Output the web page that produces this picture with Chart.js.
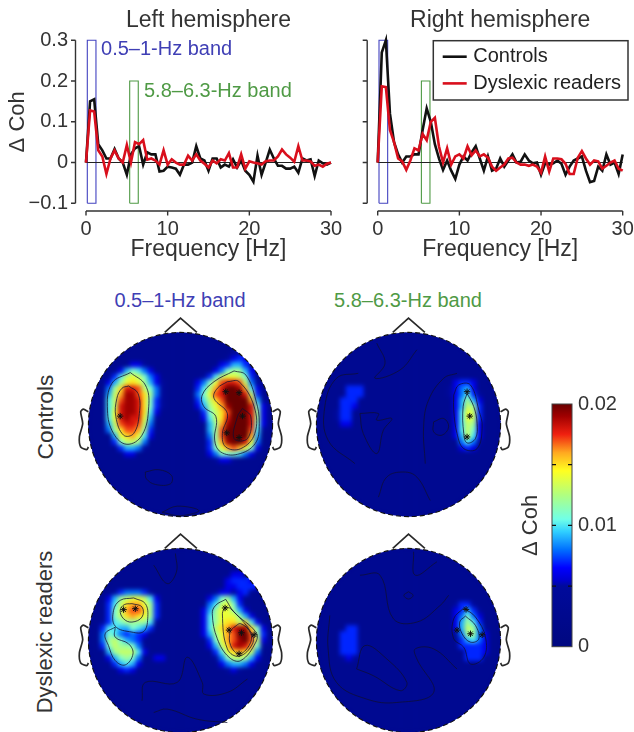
<!DOCTYPE html>
<html><head><meta charset="utf-8">
<style>
html,body{margin:0;padding:0;background:#fff;width:634px;height:732px;overflow:hidden}
body{position:relative;font-family:"Liberation Sans",Arial,sans-serif;color:#333;filter:blur(.35px)}
.box{position:absolute}
.lab{position:absolute;white-space:nowrap;font-size:20px;line-height:24px;transform:translate(-50%,-50%)}
.rot{transform:translate(-50%,-50%) rotate(-90deg)}
</style>
<script src="https://cdn.jsdelivr.net/npm/chart.js@4"></script>
</head><body>
<div class="box" style="left:0;top:0;width:352px;height:270px"><canvas id="left"></canvas></div>
<div class="box" style="left:340px;top:0;width:294px;height:270px"><canvas id="right"></canvas></div>
<div class="lab" style="left:180px;top:300px;color:#3f3fb5">0.5–1-Hz band</div>
<div class="lab" style="left:408px;top:300px;color:#4f9a45">5.8–6.3-Hz band</div>
<div class="lab rot" style="left:45px;top:417px;font-size:22.8px">Controls</div>
<div class="lab rot" style="left:45px;top:632px;font-size:22px">Dyslexic readers</div>
<div class="box" style="left:70px;top:314px;width:221px;height:221px"><canvas id="m1"></canvas></div>
<div class="box" style="left:298px;top:314px;width:221px;height:221px"><canvas id="m2"></canvas></div>
<div class="box" style="left:70px;top:530px;width:221px;height:221px"><canvas id="m3"></canvas></div>
<div class="box" style="left:298px;top:530px;width:221px;height:221px"><canvas id="m4"></canvas></div>
<div class="box" style="left:510px;top:390px;width:124px;height:270px"><canvas id="cb"></canvas></div>
<script>
// ---------- spectra ----------
const freqHz=[0,.5,1,1.5,2,2.5,3,3.5,4,4.5,5,5.5,6,6.5,7,7.5,8,8.5,9,9.5,10,10.5,11,11.5,12,12.5,13,13.5,14,14.5,15,15.5,16,16.5,17,17.5,18,18.5,19,19.5,20,20.5,21,21.5,22,22.5,23,23.5,24,24.5,25,25.5,26,26.5,27,27.5,28,28.5,29,29.5,30];
const leftControls=[0,.15,.155,.045,.03,.01,.01,.033,.01,0,-.03,.02,.035,.04,-.005,.025,.02,.02,-.022,-.02,-.01,-.012,-.015,-.03,-.005,-.005,0,.04,.01,.005,-.02,.01,.01,-.012,-.005,-.01,.008,-.012,.005,-.02,-.03,-.047,.017,-.03,0,.032,.01,-.008,-.008,-.015,-.015,-.01,-.025,.01,.005,.008,-.033,.005,-.002,-.005,0];
const leftDyslexic=[0,.128,.125,.03,.015,-.028,.01,.03,.01,0,.043,0,.05,.045,.055,.007,.01,.005,-.005,.03,-.005,.008,0,-.005,-.005,.017,.005,.02,.005,-.003,-.012,.005,-.002,.008,.005,.023,-.012,-.012,.02,-.015,.003,0,-.002,-.005,.003,.005,.005,.015,.032,.02,.012,.002,.04,.005,.005,.003,-.008,-.005,-.01,-.003,0];
const rightControls=[0,.27,.3,.12,.05,.02,0,.015,.015,.02,.02,.08,.133,.1,.045,.01,-.018,.005,-.02,-.04,-.005,.015,.005,.025,.04,.01,-.02,.015,-.02,-.015,.01,-.01,.005,.02,0,.002,.02,.005,-.002,0,-.03,-.002,-.005,-.002,.005,-.003,-.03,-.01,.005,.01,.015,-.02,-.048,-.045,-.01,-.02,.02,-.005,0,-.028,.02];
const rightDyslexic=[0,.187,.185,.08,.05,.01,.003,-.018,.005,.035,.03,.07,.055,.1,.11,.04,0,.035,-.005,.015,.02,.01,.04,.018,.03,.015,.02,.012,-.01,-.02,-.012,-.005,.01,.012,0,-.005,-.005,-.008,-.005,-.01,-.025,.015,-.022,.01,.01,.008,-.003,-.028,-.028,.012,.028,.01,-.005,.005,.003,-.015,-.008,0,.005,-.015,-.02];
const bandSlowX=[.16,1.22,1.22,.16,.16], bandSlowY=[-.1,-.1,.3,.3,-.1];
const bandFastX=[5.35,6.4,6.4,5.35,5.35], bandFastY=[-.1,-.1,.2,.2,-.1];
const xTicks=[0,10,20,30], yTicks=[-.1,0,.1,.2,.3];

// ---------- topographies: [row, firstColumn, levels in 0.001 units, base 36] ----------
const mapControlsSlow=[
[5,7,"665"],[6,5,"69ba86"],[7,4,"7adedb86"],[8,3,"69cefec965"],[9,3,"8cfiihdb85"],[10,3,"9dgjjhfc85"],[11,3,"adhjjifb75"],[12,3,"adijjifb75"],[13,3,"aeijjifa6"],[14,3,"aeijiie95"],[15,3,"9dhiihd8"],[16,3,"8cfhhgc7"],[17,4,"9efgea6"],[18,4,"7bddc8"],[19,5,"79985"],[20,6,"66"],
[3,24,"55"],[4,23,"5676"],[5,22,"679975"],[6,21,"68bcc96"],[7,19,"57adeedb7"],[8,18,"68behiihd85"],[9,18,"7adgikkjga6"],[10,18,"8behikkkid7"],[11,18,"7adfhkkkkg95"],[12,18,"69cegjkkkib6"],[13,19,"7bdfhkkkic6"],[14,19,"6adfikkkic6"],[15,20,"9cgjkkkib6"],[16,20,"9chkkkkha5"],[17,20,"8chkkkkg9"],[18,20,"7cgjkkie8"],[19,20,"7beghgeb6"],[20,20,"68bbba86"],[21,21,"5665"]];
const mapControlsFast=[
[9,5,"777"],[10,5,"777"],[11,4,"777"],[12,4,"776"],[13,3,"577"],[14,3,"577"],[15,4,"66"],
[8,23,"6776"],[9,22,"56896"],[10,22,"568a75"],[11,23,"69c96"],[12,23,"69dc7"],[13,23,"6aed7"],[14,23,"6aed7"],[15,23,"6adc6"],[16,23,"6adb6"],[17,23,"69da6"],[18,24,"8a85"],[19,24,"676"]];
const mapDyslexicSlow=[
[7,4,"5788875"],[8,3,"69cdeeda6"],[9,3,"7adfggec7"],[10,3,"7bdghhfc7"],[11,3,"7bdfgfec7"],[12,2,"57abcccca5"],[13,2,"7aa99ba97"],[14,2,"8ba87876"],[15,2,"8cdb987"],[16,2,"7bdccb85"],[17,3,"9cddda6"],[18,3,"69bcb8"],[19,4,"79a96"],[20,5,"676"],[18,11,"66"],
[4,24,"66"],[5,23,"67776"],[6,23,"667776"],
[7,21,"566567"],[8,20,"68bc96"],[9,20,"8adeb7"],[10,19,"69ceec96"],[11,19,"6aceeec96"],[12,19,"6aceffdfa6"],[13,19,"6adfgijjfb6"],[14,19,"69ceghkkhc7"],[15,20,"7beghjkhd6"],[16,20,"69dfijigb5"],[17,21,"7aefgfd8"],[18,21,"58bddc96"],[19,22,"689986"],[20,23,"565"]];
const mapDyslexicFast=[
[13,5,"77"],[14,4,"777"],[15,4,"777"],[16,4,"777"],[17,4,"777"],[18,4,"565"],
[9,23,"5775"],[10,23,"67975"],[11,23,"68b86"],[12,23,"69ca7"],[13,23,"69dc85"],[14,23,"58cc86"],[15,24,"79a86"],[16,24,"77776"],[17,25,"7776"],[18,25,"777"]];

// contour lines in head-radius units, one [x,y] list each
const linesControlsSlow=[
[[-.545,.564],[-.382,.429],[-.345,.193],[-.418,-.116],[-.582,-.215],[-.727,-.098],[-.793,.156],[-.745,.447],[-.545,.564]],
[[-.564,.418],[-.462,.338],[-.447,.12],[-.509,-.098],[-.618,-.116],[-.702,.084],[-.691,.284],[-.636,.393],[-.564,.418]],
[[.582,.582],[.709,.538],[.818,.265],[.855,.011],[.811,-.207],[.618,-.324],[.436,-.298],[.371,-.171],[.385,.084],[.255,.193],[.236,.32],[.364,.465],[.582,.582]],
[[.509,.465],[.636,.465],[.8,.193],[.807,-.098],[.655,-.262],[.491,-.244],[.455,-.098],[.509,.12],[.364,.284],[.4,.393],[.509,.465]],
[[.673,.175],[.764,.084],[.727,-.153],[.582,-.153],[.618,.084],[.673,.175]],
[[-.382,-.516],[-.236,-.491],[-.098,-.553],[-.109,-.644],[-.273,-.651],[-.371,-.589],[-.382,-.516]],
[[-.2,-.953],[-.036,-.887],[.2,-.935],[0,-.99],[-.2,-.953]]];
const linesControlsFast=[
[[.636,.338],[.709,.193],[.745,.011],[.727,-.153],[.636,-.2],[.6,-.098],[.593,.193],[.636,.338]],
[[.491,.32],[.545,.429],[.673,.429],[.764,.156],[.8,-.025],[.745,-.262],[.6,-.262],[.527,-.098],[.491,.156],[.491,.32]],
[[.182,-.425],[.164,-.025],[.218,.265],[.382,.502],[.527,.556]],
[[-.545,.556],[-.782,.502],[-.909,.193],[-.873,-.171],[-.582,-.425]],
[[-.527,.12],[-.491,-.098],[-.345,-.316],[-.273,-.062],[-.182,.065],[-.345,.047],[-.327,.12],[-.527,.12]],
[[-.327,-.789],[-.236,-.571],[-.055,-.516],[.091,-.571],[.236,-.825]],
[[-.345,.884],[-.255,.665],[-.364,.502],[-.091,.593],[.091,.811]],
[[.273,.029],[.382,.065],[.436,-.025],[.364,-.116],[.273,-.08],[.273,.029]]];
const linesDyslexicSlow=[
[[-.509,.462],[-.382,.4],[-.356,.236],[-.4,.098],[-.527,.091],[-.709,.156],[-.727,.327],[-.655,.436],[-.509,.462]],
[[-.527,.4],[-.418,.364],[-.418,.255],[-.527,.2],[-.618,.236],[-.655,.327],[-.611,.389],[-.527,.4]],
[[-.709,.145],[-.818,.073],[-.782,-.055],[-.709,-.218],[-.6,-.265],[-.516,-.145],[-.564,-.036],[-.709,.036],[-.709,.145]],
[[.491,.447],[.382,.382],[.345,.291],[.4,.018],[.527,-.182],[.655,-.218],[.818,-.018],[.818,.091],[.582,.309],[.491,.447]],
[[.491,.364],[.455,.291],[.509,-.091],[.636,-.171],[.782,-.036],[.764,.091],[.545,.345],[.491,.364]],
[[.582,.145],[.655,.182],[.764,.073],[.745,-.055],[.636,-.145],[.545,-.055],[.538,.091],[.582,.145]],
[[-.291,.818],[-.145,.618],[-.044,.745],[-.055,.945]],
[[-.418,-.655],[-.382,-.455],[-.036,-.455],[.073,-.182],[.236,-.455],[.255,-.582],[.509,-.564],[.727,-.418]],
[[-.291,-.782],[-.145,-.745],[.182,-.855],[.509,-.891]]];
const linesDyslexicFast=[
[[.618,.265],[.727,.164],[.764,.018],[.673,-.018],[.582,.073],[.556,.2],[.618,.265]],
[[.6,.353],[.727,.255],[.836,.036],[.818,-.182],[.673,-.255],[.6,-.073],[.491,.018],[.491,.236],[.6,.353]],
[[-.564,-.309],[-.473,-.055],[-.236,-.2],[-.018,-.455],[-.091,-.545],[-.382,-.382],[-.564,-.309]],
[[-.855,.273],[-.873,-.091],[-.782,-.455],[-.455,-.636],[-.127,-.673],[.273,-.564],[.091,-.2],[.073,-.091],[.273,-.091],[.527,-.309]],
[[-.527,.709],[-.309,.709],[-.164,.236],[.091,.2],[.345,.382],[.436,.491]],
[[.055,.964],[.073,.709],[.309,.855]],
[[0,.53],[.05,.49],[0,.45],[-.05,.49],[0,.53]]];
const starsControlsSlow=[[-.655,.091],[.636,.345],[.491,.356],[.673,.091],[.636,-.142],[.502,-.091]];
const starsControlsFast=[[.636,.356],[.665,.091],[.636,-.135]];
const starsDyslexicSlow=[[-.618,.335],[-.491,.345],[.484,.353],[.527,.113],[.662,.084],[.8,.062],[.636,-.145]];
const starsDyslexicFast=[[.625,.338],[.527,.113],[.673,.073],[.8,.062]];
const noseOutline=[[-.171,1],[0,1.156],[.178,1]];
const leftEar=[[-1,.138],[-1.055,.167],[-1.084,.138],[-1.062,.011],[-1.098,-.135],[-1.084,-.244],[-1.018,-.273],[-1,-.244]];
const rightEar=[[1,.138],[1.055,.167],[1.084,.138],[1.062,.011],[1.098,-.135],[1.084,-.244],[1.018,-.273],[1,-.244]];

// ---------- colour scale ----------
const colorbarStops=[[0,'#000880'],[.005,'#000a9c'],[.0055,'#0000d0'],[.0065,'#0000ff'],[.008,'#0070ff'],[.0095,'#30d0ff'],[.0105,'#70ffe8'],[.0125,'#b0ff80'],[.0145,'#ffff20'],[.016,'#ffa820'],[.0175,'#f02010'],[.019,'#a00000'],[.02,'#680000']];
const colorbarTicks=[.005,.01,.015];
const backgroundLevel=3;

const TEXT='#333', FF='"Liberation Sans",Arial,sans-serif';
Chart.defaults.font.family=FF; Chart.defaults.color=TEXT; Chart.defaults.animation=false;
Chart.defaults.responsive=true; Chart.defaults.maintainAspectRatio=false;

const xy=(xs,ys)=>xs.map((x,i)=>({x,y:ys[i]}));
function levelColor(v){
  for(let i=1;i<colorbarStops.length;i++){
    const [a,ca]=colorbarStops[i-1],[b,cb]=colorbarStops[i];
    if(v<=b){const t=(v-a)/(b-a),p=c=>[1,3,5].map(k=>parseInt(c.substr(k,2),16));
      const A=p(ca),B=p(cb);return `rgb(${A.map((q,j)=>Math.round(q+(B[j]-q)*t)).join(',')})`;}
  }
  return colorbarStops[colorbarStops.length-1][1];
}

// detached axes, drawn through the scales
const annotations={
 left:[{text:'0.5–1-Hz band',x:1.84,y:.277,color:'#3f3fb5'},{text:'5.8–6.3-Hz band',x:7.1,y:.174,color:'#4f9a45'}],
 right:[]};
const legendBoxRight={left:93.3,top:40.7,right:288,bottom:100};
const spines={id:'spines',afterDraw(ch){
  const {ctx,scales:{x,y}}=ch; ctx.save(); ctx.strokeStyle='#333'; ctx.lineWidth=1.4;
  const sx=x.getPixelForValue(0)-10.5, sy=y.getPixelForValue(-.1)+7.7;
  ctx.beginPath();
  ctx.moveTo(sx,y.getPixelForValue(-.1)); ctx.lineTo(sx,y.getPixelForValue(.3));
  yTicks.forEach(v=>{const p=y.getPixelForValue(v);ctx.moveTo(sx,p);ctx.lineTo(sx-4.5,p);});
  ctx.moveTo(x.getPixelForValue(0),sy); ctx.lineTo(x.getPixelForValue(30),sy);
  xTicks.forEach(v=>{const p=x.getPixelForValue(v);ctx.moveTo(p,sy);ctx.lineTo(p,sy+4.5);});
  ctx.stroke();
  annotations[ch.canvas.id].forEach(n=>{ctx.fillStyle=n.color;ctx.font='20px '+FF;ctx.textBaseline='middle';ctx.fillText(n.text,x.getPixelForValue(n.x),y.getPixelForValue(n.y));});
  ctx.restore();
}};
const legendPlace={id:'legendPlace',afterDatasetsDraw(ch){
  if(ch.canvas.id!=='right') return;
  const b=legendBoxRight,c=ch.ctx;c.save();c.strokeStyle='#333';c.lineWidth=1.5;c.fillStyle='#fff';
  c.fillRect(b.left,b.top,b.right-b.left,b.bottom-b.top);c.strokeRect(b.left,b.top,b.right-b.left,b.bottom-b.top);
  c.font='20px '+FF;c.textBaseline='middle';c.lineWidth=2.6;
  [0,1].forEach(i=>{const d=ch.data.datasets[i],yy=b.top+16+26.7*i;
    c.strokeStyle=d.borderColor;c.beginPath();c.moveTo(b.left+9.4,yy);c.lineTo(b.left+33.4,yy);c.stroke();
    c.fillStyle='#222';c.fillText(d.label,b.left+40,yy);});
  c.restore();
}};

function spectrum(id,ctrl,dys,yLabels,title,extra){
  const sameLine=(label,xs,ys,col,w,ord)=>({label,data:xy(xs,ys),borderColor:col,backgroundColor:col,borderWidth:w,pointRadius:0,showLine:true,order:ord,clip:false,tension:0});
  return new Chart(document.getElementById(id),{type:'scatter',
   data:{datasets:[
     sameLine('Controls',freqHz,ctrl,'#111',2.6,1),
     sameLine('Dyslexic readers',freqHz,dys,'#d90f1c',2.6,0),
     sameLine('0.5–1-Hz band box',bandSlowX,bandSlowY,'#4343c0',1.1,3),
     sameLine('5.8–6.3-Hz band box',bandFastX,bandFastY,'#4f9a45',1.1,3),
     sameLine('zero',[0,30],[0,0],'#222',1.1,2)]},
   options:{
     layout:{padding:extra.padding,autoPadding:false},
     plugins:{
       title:{display:true,text:title,fullSize:false,color:TEXT,font:{size:23,weight:'normal'},padding:{top:7,bottom:5.7}},
       legend:{display:false},
       tooltip:{enabled:false}},
     scales:{
       x:{type:'linear',min:0,max:30,grid:{display:false,drawTicks:false},border:{display:false},
          afterBuildTicks:s=>{s.ticks=xTicks.map(value=>({value}));},
          ticks:{font:{size:20},color:TEXT,padding:14,maxRotation:0,autoSkip:false},
          afterFit:s=>{s.height=66.7;s.paddingLeft=0;s.paddingRight=0;},
          title:{display:true,text:'Frequency [Hz]',color:TEXT,font:{size:23},padding:{top:0,bottom:7}}},
       y:{type:'linear',min:-.1,max:.3,grid:{display:false,drawTicks:false},border:{display:false},
          afterBuildTicks:s=>{s.ticks=yTicks.map(value=>({value}));},
          ticks:{display:yLabels,font:{size:20},color:TEXT,padding:18,callback:v=>v===0?'0':(v<0?'−':'')+Math.abs(v).toFixed(1)},
          afterFit:s=>{s.width=extra.yWidth;s.paddingTop=0;s.paddingBottom=0;},
          title:{display:yLabels,text:'Δ Coh',color:TEXT,font:{size:22},padding:{top:5,bottom:0}}}}
   },plugins:[spines,legendPlace]});
}
spectrum('left',leftControls,leftDyslexic,true,'Left hemisphere',{padding:{top:0,right:21,bottom:0,left:0},yWidth:86});
spectrum('right',rightControls,rightDyslexic,false,'Right hemisphere',{padding:{top:0,right:11.3,bottom:0,left:0},yWidth:37.7});

// ---------- head maps ----------
const headClip={id:'headClip',
 beforeDatasetDraw(ch,a){ if(!ch.data.datasets[a.index].isField) return;
   const {ctx,scales:{x,y}}=ch; ctx.save(); ctx.beginPath();
   ctx.arc(x.getPixelForValue(0),y.getPixelForValue(0),x.getPixelForValue(1)-x.getPixelForValue(0),0,Math.PI*2); ctx.clip(); },
 afterDatasetDraw(ch,a){ if(!ch.data.datasets[a.index].isField) return;
   const ctx=ch.ctx; ctx.filter='blur(2px)'; ctx.drawImage(ctx.canvas,0,0); ctx.filter='none'; ctx.restore(); },
 afterDatasetsDraw(ch){ const {ctx,scales:{x,y}}=ch; ctx.save(); ctx.strokeStyle='#111'; ctx.lineWidth=1.1; ctx.setLineDash([5,3]);
   ctx.beginPath(); ctx.arc(x.getPixelForValue(0),y.getPixelForValue(0),x.getPixelForValue(1)-x.getPixelForValue(0),0,Math.PI*2); ctx.stroke(); ctx.restore(); }
};
function headMap(id,runs,lines,stars){
  const N=31, lv={};
  runs.forEach(([r,c,s])=>[...s].forEach((ch,i)=>{lv[r+','+(c+i)]=parseInt(ch,36);}));
  const pts=[],cols=[];
  for(let r=-2;r<N+2;r++)for(let c=-2;c<N+2;c++){
    const l=lv[r+','+c]; pts.push({x:-1+(c+.5)*2/N,y:1-(r+.5)*2/N}); cols.push(levelColor((l===undefined?backgroundLevel:l)/1000));
  }
  const outline=(d,t)=>({data:d.map(([x,y])=>({x,y})),showLine:true,pointRadius:0,borderColor:'#2a2a2a',borderWidth:1.7,tension:t,order:1,clip:false});
  const ds=[{isField:true,data:pts,pointStyle:'rect',pointRadius:4.7,pointBorderWidth:0,borderWidth:0,pointBackgroundColor:cols,backgroundColor:cols,order:10,showLine:false},
    ...lines.map(d=>({data:d.map(([x,y])=>({x,y})),showLine:true,pointRadius:0,borderColor:'rgba(15,15,50,.75)',borderWidth:1,tension:.4,order:2})),
    outline(noseOutline,0),outline(leftEar,.25),outline(rightEar,.25),
    {data:stars.map(([x,y])=>({x,y})),pointStyle:'star',pointRadius:3.2,pointBorderColor:'#111',pointBorderWidth:1,pointBackgroundColor:'#111',showLine:false,order:0}];
  new Chart(document.getElementById(id),{type:'scatter',data:{datasets:ds},
    options:{layout:{autoPadding:false},plugins:{legend:{display:false},tooltip:{enabled:false}},
      scales:{x:{display:false,min:-1.2,max:1.2},y:{display:false,min:-1.2,max:1.2}}},plugins:[headClip]});
}
headMap('m1',mapControlsSlow,linesControlsSlow,starsControlsSlow);
headMap('m2',mapControlsFast,linesControlsFast,starsControlsFast);
headMap('m3',mapDyslexicSlow,linesDyslexicSlow,starsDyslexicSlow);
headMap('m4',mapDyslexicFast,linesDyslexicFast,starsDyslexicFast);

// ---------- colour bar ----------
const colorbarLabel=['Δ Coh'], colorbarRange=[0,.02];
new Chart(document.getElementById('cb'),{type:'bar',
  data:{labels:colorbarLabel,datasets:[{data:[colorbarRange],barPercentage:1,categoryPercentage:1,borderWidth:0,
    backgroundColor(c){const s=c.chart.scales.y; const a=s&&s.getPixelForValue(0),b=s&&s.getPixelForValue(.02);
      if(!s||!isFinite(a)||!isFinite(b)) return '#0000ff';
      const g=c.chart.ctx.createLinearGradient(0,a,0,b);
      colorbarStops.forEach(([v,col])=>g.addColorStop(v/.02,col)); return g;}}]},
  options:{layout:{padding:{top:14,bottom:13.3},autoPadding:false},
    plugins:{legend:{display:false},tooltip:{enabled:false}},
    scales:{x:{display:false},
      y:{position:'right',min:0,max:.02,grid:{display:false,drawTicks:false},border:{display:false},
         afterBuildTicks:s=>{s.ticks=[0,.01,.02].map(value=>({value}));},
         ticks:{font:{size:20},color:TEXT,padding:6,callback:v=>v===0?'0':v.toFixed(2)},afterFit:s=>{s.width=62;s.paddingTop=0;s.paddingBottom=0;}},
      y2:{position:'left',display:true,min:0,max:.02,grid:{display:false,drawTicks:false},border:{display:false},
         ticks:{display:false},afterFit:s=>{s.width=42;},
         title:{display:true,text:'Δ Coh',color:TEXT,font:{size:22},padding:{top:8,bottom:0}}}}},
  plugins:[{id:'cbFrame',afterDatasetsDraw(ch){const {ctx,chartArea:a,scales:{y}}=ch;ctx.save();ctx.strokeStyle='#444';ctx.lineWidth=1;
    ctx.strokeRect(a.left,a.top,a.right-a.left,a.bottom-a.top);ctx.strokeStyle='#111';ctx.lineWidth=1.3;ctx.beginPath();
    colorbarTicks.forEach(v=>{const p=y.getPixelForValue(v);ctx.moveTo(a.left,p);ctx.lineTo(a.left+4,p);ctx.moveTo(a.right-4,p);ctx.lineTo(a.right,p);});ctx.stroke();ctx.restore();}}]});
</script>
</body></html>
